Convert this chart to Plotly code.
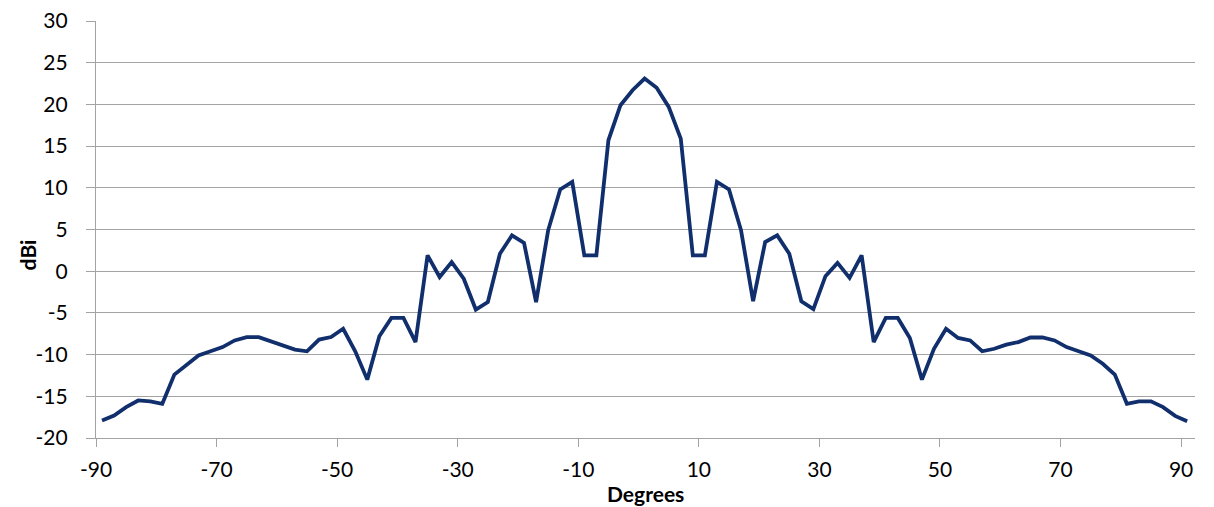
import plotly.graph_objects as go

# Antenna gain pattern, sampled every 2 degrees
degrees = list(range(-89, 92, 2))
gain_dbi = [
    -17.9, -17.3, -16.3, -15.5, -15.6, -15.9, -12.4, -11.3, -10.1, -9.6,   # -89 .. -71
    -9.1, -8.3, -7.9, -7.9, -8.4, -8.8, -9.4, -9.6, -8.2, -7.9,            # -69 .. -51
    -6.9, -9.6, -13.0, -7.8, -5.6, -5.6, -8.5, 1.9, -0.7, 1.1,             # -49 .. -31
    -0.9, -4.6, -3.7, 2.1, 4.3, 3.4, -3.7, 4.9, 9.8, 10.7,                 # -29 .. -11
    1.9, 1.9, 15.7, 19.9, 21.7, 23.1, 22.0, 19.7, 15.9, 1.9,               # -9 .. 9
    1.9, 10.7, 9.8, 4.9, -3.6, 3.5, 4.3, 2.1, -3.6, -4.55,                 # 11 .. 29
    -0.6, 1.0, -0.8, 1.9, -8.5, -5.6, -5.6, -8.0, -13.0, -9.3,             # 31 .. 49
    -6.9, -8.0, -8.3, -9.6, -9.3, -8.8, -8.5, -7.95, -7.95, -8.3,          # 51 .. 69
    -9.1, -9.6, -10.1, -11.1, -12.4, -15.9, -15.6, -15.6, -16.3, -17.35,   # 71 .. 89
    -18.0,                                                                  # 91
]

x_ticks = [-90, -70, -50, -30, -10, 10, 30, 50, 70, 90]
y_ticks = [-20, -15, -10, -5, 0, 5, 10, 15, 20, 25, 30]

FONT = "Lato"
GRID = "#a3a3a3"
TEXT = "#000000"

fig = go.Figure(
    go.Scatter(
        x=degrees,
        y=gain_dbi,
        mode="lines",
        line=dict(color="#112f6c", width=3.8),
        hoverinfo="x+y",
    )
)

fig.update_layout(
    width=1214,
    height=507,
    margin=dict(l=96, r=19, t=21, b=69, autoexpand=False),
    paper_bgcolor="white",
    plot_bgcolor="white",
    showlegend=False,
    font=dict(family=FONT, size=21, color=TEXT),
    annotations=[
        dict(
            text="<b>Degrees</b>",
            xref="paper", yref="paper",
            x=0.5, y=-0.134,
            xanchor="center", yanchor="middle",
            showarrow=False,
            font=dict(family=FONT, size=21, color=TEXT),
        ),
        dict(
            text="<b>dBi</b>",
            xref="paper", yref="paper",
            x=-0.062, y=0.44,
            xanchor="center", yanchor="middle",
            textangle=-90,
            showarrow=False,
            font=dict(family=FONT, size=21, color=TEXT),
        ),
    ],
)

fig.update_xaxes(
    range=[-90, 92.3],
    automargin=False,
    tickmode="array",
    tickvals=x_ticks,
    ticktext=[str(v) for v in x_ticks],
    ticks="outside",
    ticklen=8,
    tickwidth=1.3,
    tickcolor=GRID,
    showgrid=False,
    zeroline=False,
    showline=True,
    linecolor=GRID,
    linewidth=1.3,
    ticklabelstandoff=5,
)

fig.update_yaxes(
    range=[-20, 30],
    automargin=False,
    tickmode="array",
    tickvals=y_ticks,
    ticktext=[str(v) for v in y_ticks],
    ticks="outside",
    ticklen=9,
    tickwidth=1.3,
    tickcolor=GRID,
    showgrid=True,
    gridcolor=GRID,
    gridwidth=1.3,
    zeroline=False,
    showline=True,
    linecolor=GRID,
    linewidth=1.3,
    ticklabelstandoff=14,
)

fig.write_html("out.html")
